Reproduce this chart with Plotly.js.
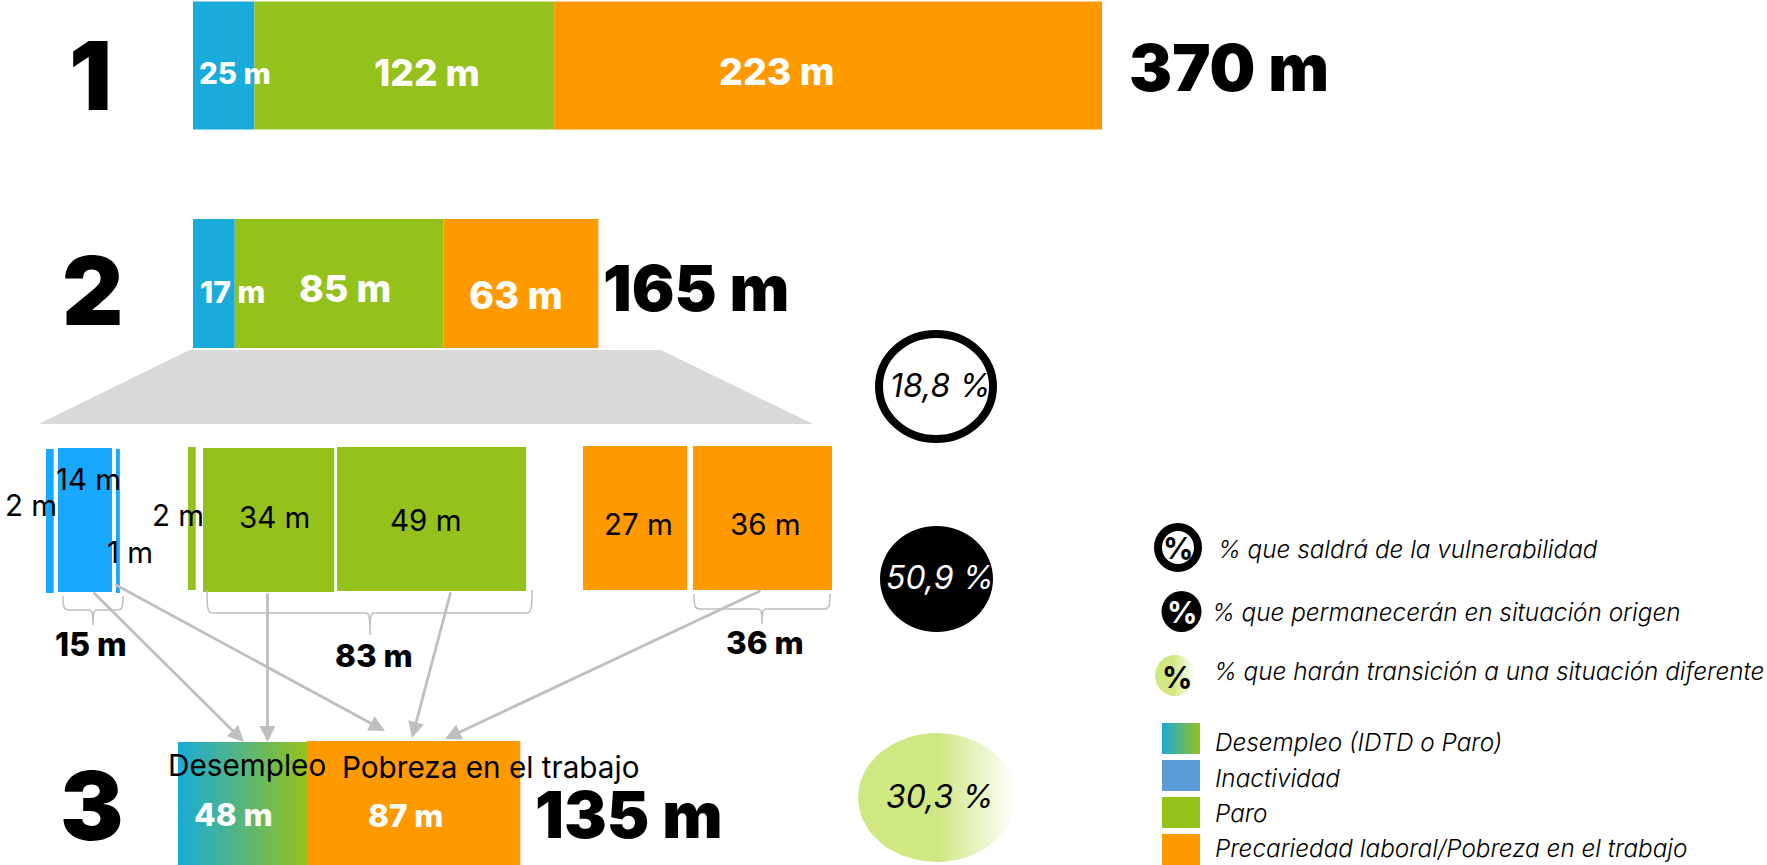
<!DOCTYPE html>
<html><head><meta charset="utf-8">
<script src="https://cdn.plot.ly/plotly-3.0.1.min.js"></script>
<style>html,body{margin:0;padding:0;background:#fff}#c{width:1767px;height:865px}</style>
</head><body><div id="c"></div>
<script>
// ---- data (millions of people) ----
const row1Values = [25, 122, 223];
const row2Values = [17, 85, 63];
const row1Total = 370, row2Total = 165, row3Total = 135;
const inactivityValues = [2, 14, 1];
const paroValues = [2, 34, 49];
const precariedadValues = [27, 36];
const bracketValues = [15, 83, 36];
const row3Values = [48, 87];
const percentLabels = ['18,8 %', '50,9 %', '30,3 %'];
const legendCircleLabels = ['% que saldrá de la vulnerabilidad', '% que permanecerán en situación origen', '% que harán transición a una situación diferente'];
const legendSwatchLabels = ['Desempleo (IDTD o Paro)', 'Inactividad', 'Paro', 'Precariedad laboral/Pobreza en el trabajo'];

// ---- colours ----
const BLUE='#19abd9', GREEN='#95c11c', ORANGE='#ff9900', SKY='#18a9ff', STEEL='#5b9bd5', GREY='#bfbfbf', LIME='#cfe881';
const F='Inter';

// ---- layout constants ----
const W=1767,H=865;
const scaleMain=2.457, scaleDetail=3.86, scaleDes=2.69, originMain=193;
const m=s=>s+' m';

function bar(xa,bases,vals,ys,hs,color){
  return {type:'bar',orientation:'h',xaxis:xa,yaxis:'y',base:bases,x:vals,y:ys,width:hs,
    marker:{color:color,line:{width:0}},hoverinfo:'skip'};
}
function cum(a){let s=0;return a.map(v=>{const r=s;s+=v;return r;});}
const traces=[];
const b1=cum(row1Values), b2=cum(row2Values);
[BLUE,GREEN,ORANGE].forEach((c,i)=>{
  traces.push(bar('x',[b1[i],b2[i]],[row1Values[i],row2Values[i]],[65.5,283.5],[128,129],c));
});
// detail bars: left pixel, top, bottom come from layout constants
const inaLeft=[46,58,116], inaTop=[449,448,449], inaBot=[593,592,593];
const parLeft=[188,203,337], parTop=[447,448,447], parBot=[590,592,591];
const preLeft=[583,693], preTop=[446,446], preBot=[590,590];
function detail(vals,left,top,bot,c){
  traces.push(bar('x2',left.map(p=>p/scaleDetail),vals,top.map((t,i)=>(t+bot[i])/2),top.map((t,i)=>bot[i]-t),c));
}
detail(inactivityValues,inaLeft,inaTop,inaBot,SKY);
detail(paroValues,parLeft,parTop,parBot,GREEN);
detail(precariedadValues,preLeft,preTop,preBot,ORANGE);
// row 3
traces.push(bar('x',[(306.5-originMain)/scaleMain],[row3Values[1]],[803],[124],ORANGE));
const x0=178/scaleDes;
traces.push({type:'scatter',mode:'lines',xaxis:'x3',yaxis:'y',hoverinfo:'skip',
  x:[x0,x0+row3Values[0],x0+row3Values[0],x0,x0],y:[742,742,865,865,742],line:{width:0},fill:'toself',
  fillcolor:BLUE,fillgradient:{type:'horizontal',colorscale:[[0,BLUE],[1,GREEN]]}});

function ellipse(cx,cy,rx,ry,scale){
  const xs=[],ys=[];
  for(let i=0;i<=72;i++){const t=i/72*2*Math.PI;xs.push(cx+rx*Math.cos(t));ys.push(cy+ry*Math.sin(t));}
  return {type:'scatter',mode:'lines',xaxis:'x4',yaxis:'y',hoverinfo:'skip',x:xs,y:ys,line:{width:0},fill:'toself',
    fillcolor:LIME,fillgradient:{type:'horizontal',colorscale:scale}};
}
const fade=[[0,LIME],[0.5,LIME],[1,'#ffffff']];
traces.push(ellipse(937,797.5,79,64.5,fade));
traces.push(ellipse(1175,675.5,20,20.5,[[0,LIME],[0.45,LIME],[1,'#ffffff']]));
// gradient legend swatch
traces.push({type:'scatter',mode:'lines',xaxis:'x4',yaxis:'y',hoverinfo:'skip',
  x:[1162,1200,1200,1162,1162],y:[723,723,754,754,723],line:{width:0},fill:'toself',fillcolor:BLUE,
  fillgradient:{type:'horizontal',colorscale:[[0,BLUE],[1,GREEN]]}});

// ---- shapes ----
const S=(o)=>Object.assign({xref:'x4',yref:'y'},o);
const rect=(x0,y0,x1,y1,c)=>S({type:'rect',x0,y0,x1,y1,fillcolor:c,line:{width:0}});
const circ=(cx,cy,rx,ry,fill,lw)=>S({type:'circle',x0:cx-rx,x1:cx+rx,y0:cy-ry,y1:cy+ry,fillcolor:fill,line:{color:'#000',width:lw}});
const bracket=(l,r,yt,yb,stem,ye)=>S({type:'path',line:{color:'#bfbfbf',width:1.5},
  path:`M${l},${yt} C${l},${yb-2} ${l+1},${yb} ${l+6},${yb} L${stem-4},${yb} C${stem-1},${yb} ${stem},${yb+3} ${stem},${ye} C${stem},${yb+3} ${stem+1},${yb} ${stem+4},${yb} L${r-6},${yb} C${r-1},${yb} ${r},${yb-2} ${r},${yt}`});
const shapes=[
  S({type:'path',path:'M189.5,350 L661,350 L813,424 L38.5,424 Z',fillcolor:'#d9d9d9',line:{width:0}}),
  circ(936,386.5,57,52.5,'rgba(0,0,0,0)',8),
  circ(936.5,579,56.5,53,'#000',0),
  circ(1178,547.5,20,20.5,'#fff',8),
  circ(1181.5,611.5,20,20.5,'#000',0),
  rect(1162,760,1200,791,STEEL),
  rect(1162,797,1200,828,GREEN),
  rect(1162,834,1200,865,ORANGE),
  bracket(63,123,596,610,93,625),
  bracket(207,532,590,613,370,635),
  bracket(694,830,594,609,762,624)
];

// ---- annotations ----
const ann=[];
const T=(text,x,y,size,color,weight,style,anchor)=>ann.push({xref:'x4',yref:'y',x,y,text,showarrow:false,
  xanchor:anchor||'center',yanchor:'middle',font:{family:F,size,color,weight:weight||400,style:style||'normal'}});
T('1',90,75,95,'#000',900);T('2',92,290,95,'#000',900);T('3',92,805,95,'#000',900);
T(m(row1Total),1229,68,64.5,'#000',900);T(m(row2Total),696,287,63.5,'#000',900);T(m(row3Total),629,814,64,'#000',900);
T(m(row1Values[0]),235,72.5,29.5,'#fff',800);T(m(row1Values[1]),427,72,37,'#fff',800);T(m(row1Values[2]),776,71,37.5,'#fff',800);
T(m(row2Values[0]),232,292,30,'#fff',800);T(m(row2Values[1]),345,288,37.5,'#fff',800);T(m(row2Values[2]),516,295,38,'#fff',800);
T(m(inactivityValues[1]),88,479,29.5,'#000');T(m(inactivityValues[0]),31,505,29.5,'#000');T(m(inactivityValues[2]),130,552,29.5,'#000');
T(m(paroValues[0]),178,515,29.5,'#000');T(m(paroValues[1]),274,517,29.5,'#000');T(m(paroValues[2]),426,520,29.5,'#000');
T(m(precariedadValues[0]),638,524,29.5,'#000');T(m(precariedadValues[1]),765,524,29.5,'#000');
T(m(bracketValues[0]),91,644,32,'#000',800);T(m(bracketValues[1]),374,655,31.5,'#000',800);T(m(bracketValues[2]),765,642,31.5,'#000',800);
T('Desempleo',247,765,29.7,'#000');T('Pobreza en el trabajo',490,767,29.7,'#000');
T(m(row3Values[0]),233,814,31.5,'#fff',800);T(m(row3Values[1]),406,815,31.5,'#fff',800);
T(percentLabels[0],940,385,32,'#000',400,'italic');T(percentLabels[1],940,577,32,'#fff',400,'italic');T(percentLabels[2],940,796,32,'#000',400,'italic');
T('%',1178,548,30,'#000',700);T('%',1181.5,612,30,'#fff',700);T('%',1177,677,30,'#000',700);
T(legendCircleLabels[0],1216,549,24.3,'#000',300,'italic','left');
T(legendCircleLabels[1],1210,612,24.3,'#000',300,'italic','left');
T(legendCircleLabels[2],1212,671,24.3,'#000',300,'italic','left');
[741.5,777.5,813,848].forEach((y,i)=>T(legendSwatchLabels[i],1212.5,y,24.3,'#000',300,'italic','left'));

const arrows=[[92,591,244,742],[267.5,592,267.5,742],[114,584,385,731],[451,591,412,738],[762,590,445,739]];
arrows.forEach(a=>ann.push({xref:'x4',yref:'y',axref:'x4',ayref:'y',ax:a[0],ay:a[1],x:a[2],y:a[3],text:'',showarrow:true,
  arrowhead:2,arrowsize:1.15,arrowwidth:2.8,arrowcolor:GREY,standoff:0,startstandoff:0}));

const ax=(range,extra)=>Object.assign({range,visible:false,fixedrange:true,anchor:'y',domain:[0,1]},extra||{});
const layout={width:W,height:H,margin:{l:0,r:0,t:0,b:0,pad:0},paper_bgcolor:'#fff',plot_bgcolor:'#fff',showlegend:false,
  barmode:'overlay',hovermode:false,
  xaxis:ax([-originMain/scaleMain,(W-originMain)/scaleMain]),
  xaxis2:ax([0,W/scaleDetail],{overlaying:'x'}),
  xaxis3:ax([0,W/scaleDes],{overlaying:'x'}),
  xaxis4:ax([0,W],{overlaying:'x'}),
  yaxis:{range:[H,0],visible:false,fixedrange:true,domain:[0,1]},
  shapes,annotations:ann};
Plotly.newPlot('c',traces,layout,{displayModeBar:false,staticPlot:true});
</script></body></html>
